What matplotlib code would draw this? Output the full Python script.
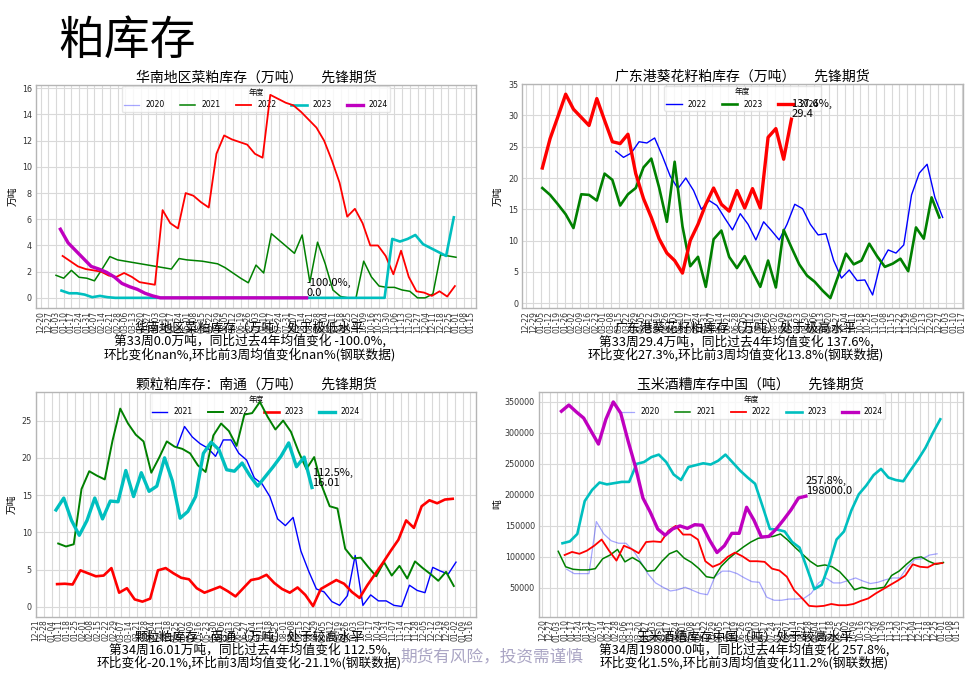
import pandas as pd
import matplotlib
matplotlib.use("Agg")
import matplotlib.pyplot as plt

plt.rcParams['font.family'] = ['Noto Sans CJK SC', 'DejaVu Sans']
plt.rcParams['axes.unicode_minus'] = False

W, H = 979, 679

# ---- 华南地区菜粕库存（万吨） ----
tl_ticks_start = '2023-12-20'
tl_2021 = [1.72, 1.5, 2.1, 1.57, 1.5, 1.3, 2.2, 3.15, 2.9, 2.8,
           2.7, 2.6, 2.5, 2.4, 2.3, 2.2, 3.0, 2.9, 2.85, 2.8,
           2.7, 2.6, 2.3, 1.9, 1.5, 1.15, 2.5, 1.9, 4.9, 4.4,
           3.9, 3.4, 4.8, 1.2, 4.25, 2.6, 0.6, 0.1, 0, 0,
           2.8, 1.6, 0.9, 0.8, 0.8, 0.6, 0.5, 0, 0, 0.3,
           3.3, 3.2, 3.1]
tl_2022 = [3.2, 2.8, 2.4, 2.2, 2.1, 2.0, 1.7, 1.6, 1.9, 1.6,
           1.2, 1.1, 1.0, 6.7, 5.7, 5.3, 8.0, 7.8, 7.3, 6.9,
           11.0, 12.4, 12.1, 11.9, 11.7, 11.0, 10.7, 15.5, 15.2, 14.9,
           14.7, 14.2, 13.6, 13.0, 12.0, 10.5, 8.8, 6.2, 6.8, 5.7,
           4.0, 4.0, 3.2, 1.8, 3.6, 1.6, 0.5, 0.4, 0.15, 0.5,
           0.1, 0.9]
tl_2023 = [0.55, 0.35, 0.35, 0.25, 0.05, 0.15, 0.05, 0, 0, 0,
           0, 0, 0, 0, 0, 0, 0, 0, 0, 0,
           0, 0, 0, 0, 0, 0, 0, 0, 0, 0,
           0, 0, 0, 0, 0, 0, 0, 0, 0, 0,
           0, 0, 0, 4.5, 4.3, 4.5, 4.8, 4.1, 3.8, 3.5,
           3.2, 6.15]
tl_2024 = [5.24, 4.2, 3.6, 3.0, 2.4, 2.2, 1.95, 1.6, 1.1, 0.85,
           0.65, 0.35, 0.15, 0, 0, 0, 0, 0, 0, 0,
           0, 0, 0, 0, 0, 0, 0, 0, 0, 0,
           0, 0, 0]
tl_starts = {'2021': '2024-01-03', '2022': '2024-01-09', '2023': '2024-01-08', '2024': '2024-01-07'}

# ---- 广东港葵花籽粕库存（万吨） ----
tr_ticks_start = '2023-12-22'
tr_2022 = [24.3, 23.3, 24.0, 25.8, 25.6, 26.4, 23.5, 20.3, 18.3, 20.0,
           18.0, 15.0, 16.4, 15.6, 13.6, 11.7, 14.3, 12.6, 10.1, 13.0,
           11.6, 10.1, 12.6, 15.8, 15.1, 12.6, 10.9, 11.1, 6.8, 4.0,
           5.3, 3.6, 3.7, 1.3, 6.3, 8.5, 8.0, 9.3, 17.3, 20.8,
           22.2, 16.9, 13.7]
tr_2023 = [18.4, 17.3, 15.8, 14.2, 12.0, 17.4, 17.3, 16.4, 20.7, 19.7,
           15.6, 17.4, 18.4, 21.7, 23.1, 18.5, 13.0, 22.6, 12.3, 5.9,
           7.4, 2.6, 10.2, 11.6, 7.4, 5.6, 7.5, 5.0, 2.6, 6.8,
           2.5, 11.7, 8.9, 6.2, 4.4, 3.4, 2.0, 0.8, 4.3, 7.9,
           6.2, 6.8, 9.5, 7.5, 5.8, 6.3, 7.1, 5.1, 12.1, 10.3,
           16.9, 13.7]
tr_2024 = [21.6, 26.3, 29.8, 33.4, 31.0, 29.7, 28.4, 32.7, 29.2, 25.8,
           25.5, 27.0, 20.7, 16.7, 13.7, 10.3, 8.0, 6.8, 4.8, 10.0,
           12.6, 15.8, 18.4, 15.8, 14.7, 18.0, 15.2, 18.3, 15.2, 26.5,
           27.9, 23.0, 29.4]
tr_starts = {'2022': '2024-03-12', '2023': '2024-01-06', '2024': '2024-01-06'}

# ---- 颗粒粕库存：南通（万吨） ----
bl_ticks_start = '2023-12-21'
bl_2021 = [21.4, 24.2, 22.8, 21.9, 21.3, 20.2, 22.4, 22.4, 20.6, 19.7,
           17.3, 16.5, 14.8, 11.8, 10.9, 12.0, 7.5, 4.8, 2.4, 2.0,
           0.7, 0.2, 1.5, 6.9, 0.2, 1.6, 0.8, 0.8, 0.2, 0.05,
           2.9, 2.2, 1.9, 5.3, 4.8, 4.4, 6.0]
bl_2022 = [8.5, 8.1, 8.4, 15.8, 18.2, 17.6, 17.1, 22.3, 26.6, 24.6,
           23.1, 22.2, 18.0, 20.0, 22.2, 21.5, 21.2, 20.6, 19.0, 18.1,
           23.0, 24.6, 23.6, 21.6, 25.8, 26.0, 27.5, 25.5, 23.8, 25.0,
           23.5, 20.8, 18.5, 20.1, 16.2, 13.5, 13.2, 7.8, 6.5, 6.6,
           5.3, 4.1, 6.0, 4.2, 5.5, 3.8, 6.1, 5.2, 4.4, 3.5,
           4.7, 2.8]
bl_2023 = [3.05, 3.1, 3.0, 4.9, 4.5, 4.1, 4.2, 5.2, 1.9, 2.5,
           1.0, 0.7, 1.1, 4.9, 5.2, 4.5, 3.9, 3.7, 2.5, 1.9,
           2.3, 2.7, 2.1, 1.4, 2.5, 3.6, 3.8, 4.3, 3.2, 2.4,
           1.9, 2.6, 1.6, 0.1, 2.4, 3.0, 3.6, 3.1, 2.0, 1.2,
           2.9, 4.4, 5.9, 7.5, 9.0, 11.6, 10.6, 13.5, 14.3, 13.9,
           14.4, 14.5]
bl_2024 = [13.0, 14.6, 11.6, 9.6, 11.6, 14.6, 11.8, 14.2, 14.1, 18.3,
           14.8, 18.0, 15.5, 16.2, 20.0, 16.9, 11.9, 12.8, 14.8, 20.6,
           22.1, 21.1, 18.4, 18.2, 19.3, 17.6, 16.2, 17.5, 18.8, 20.2,
           22.0, 18.8, 20.1, 16.01]
bl_starts = {'2021': '2024-04-26', '2022': '2024-01-10', '2023': '2024-01-09', '2024': '2024-01-08'}

# ---- 玉米酒糟库存中国（吨） ----
br_ticks_start = '2023-12-20'
br_2020 = [80000, 73000, 73000, 73000, 157000, 137000, 126000, 122000, 122000, 110000,
           92000, 72000, 58000, 51000, 45000, 47000, 51000, 46000, 41000, 39000,
           68000, 77000, 77000, 73000, 66000, 60000, 59000, 35000, 30000, 30000,
           32000, 32000, 33000, 41000, 58000, 66000, 58000, 58000, 62000, 66000,
           61000, 57000, 59000, 63000, 66000, 66000, 84000, 96000, 97000, 103000,
           105000]
br_2021 = [109000, 84000, 80000, 79000, 79000, 81000, 97000, 103000, 112000, 92000,
           99000, 92000, 77000, 78000, 93000, 105000, 110000, 98000, 91000, 81000,
           68000, 66000, 85000, 97000, 107000, 116000, 124000, 130000, 132000, 133000,
           137000, 127000, 115000, 104000, 93000, 85000, 87000, 84000, 76000, 63000,
           47000, 51000, 48000, 49000, 51000, 70000, 77000, 88000, 98000, 100000,
           93000, 88000, 91000]
br_2022 = [103000, 108000, 105000, 110000, 118000, 128000, 110000, 94000, 118000, 113000,
           106000, 124000, 125000, 124000, 142000, 150000, 136000, 136000, 128000, 93000,
           84000, 89000, 100000, 107000, 101000, 93000, 93000, 92000, 81000, 78000,
           68000, 46000, 34000, 21000, 20000, 21000, 24000, 22000, 22000, 24000,
           29000, 33000, 41000, 48000, 55000, 62000, 70000, 88000, 84000, 83000,
           89000, 90000]
br_2023 = [122000, 125000, 137000, 190000, 208000, 220000, 217000, 219000, 221000, 221000,
           250000, 253000, 261000, 265000, 253000, 233000, 224000, 245000, 248000, 251000,
           249000, 255000, 265000, 252000, 239000, 228000, 218000, 182000, 145000, 144000,
           141000, 124000, 115000, 82000, 48000, 55000, 88000, 128000, 141000, 175000,
           201000, 215000, 232000, 242000, 228000, 224000, 222000, 240000, 257000, 276000,
           300000, 322000]
br_2024 = [335000, 345000, 334000, 324000, 303000, 282000, 322000, 350000, 332000, 287000,
           245000, 195000, 172000, 145000, 135000, 145000, 150000, 146000, 152000, 151000,
           127000, 107000, 118000, 138000, 138000, 180000, 159000, 132000, 133000, 145000,
           160000, 176000, 195000, 198000]
br_starts = {'2020': '2024-01-12', '2021': '2024-01-04', '2022': '2024-01-10', '2023': '2024-01-08', '2024': '2024-01-07'}

# line looks: (color, linewidth, alpha)
style = {
    'b': ('#0000ff', 1.0, 1.0),
    'b_light': ('#0000ff', 0.9, 0.35),
    'g': ('#008000', 1.1, 1.0),
    'r': ('#ff0000', 1.3, 1.0),
    'c': ('#00bfbf', 1.9, 1.0),
    'm': ('#bf00bf', 2.4, 1.0),
}

panels = [
    dict(box=(36, 84.7, 476, 308),
         title='华南地区菜粕库存（万吨）      先锋期货', ylabel='万吨', ylab_x=-0.043,
         ticks=tl_ticks_start,
         series=[('2020', [], None, 'b_light'),
                 ('2021', tl_2021, tl_starts['2021'], 'g'),
                 ('2022', tl_2022, tl_starts['2022'], 'r'),
                 ('2023', tl_2023, tl_starts['2023'], 'c'),
                 ('2024', tl_2024, tl_starts['2024'], 'm')],
         note='-100.0',
         text=['华南地区菜粕库存（万吨）处于极低水平',
               '第33周0.0万吨，同比过去4年均值变化 -100.0%,',
               '环比变化nan%,环比前3周均值变化nan%(钢联数据)']),
    dict(box=(522.3, 84, 962.7, 308.3),
         title='广东港葵花籽粕库存（万吨）      先锋期货', ylabel='万吨', ylab_x=-0.045,
         ticks=tr_ticks_start,
         series=[('2022', tr_2022, tr_starts['2022'], 'b'),
                 ('2023', tr_2023, tr_starts['2023'], ('#008000', 1.9, 1.0)),
                 ('2024', tr_2024, tr_starts['2024'], ('#ff0000', 2.4, 1.0))],
         note='137.6',
         text=['广东港葵花籽粕库存（万吨）处于极高水平',
               '第33周29.4万吨，同比过去4年均值变化 137.6%,',
               '环比变化27.3%,环比前3周均值变化13.8%(钢联数据)']),
    dict(box=(36, 391.7, 476, 616.7),
         title='颗粒粕库存：南通（万吨）      先锋期货', ylabel='万吨', ylab_x=-0.044,
         ticks=bl_ticks_start,
         series=[('2021', bl_2021, bl_starts['2021'], 'b'),
                 ('2022', bl_2022, bl_starts['2022'], ('#008000', 1.4, 1.0)),
                 ('2023', bl_2023, bl_starts['2023'], ('#ff0000', 1.9, 1.0)),
                 ('2024', bl_2024, bl_starts['2024'], ('#00bfbf', 2.4, 1.0))],
         note='112.5',
         text=['颗粒粕库存：南通（万吨）处于较高水平',
               '第34周16.01万吨，同比过去4年均值变化 112.5%,',
               '环比变化-20.1%,环比前3周均值变化-21.1%(钢联数据)']),
    dict(box=(539, 391.7, 962.7, 616.7),
         title='玉米酒糟库存中国（吨）      先锋期货', ylabel='吨', ylab_x=-0.086,
         ticks=br_ticks_start,
         series=[('2020', br_2020, br_starts['2020'], 'b_light'),
                 ('2021', br_2021, br_starts['2021'], 'g'),
                 ('2022', br_2022, br_starts['2022'], 'r'),
                 ('2023', br_2023, br_starts['2023'], 'c'),
                 ('2024', br_2024, br_starts['2024'], 'm')],
         note='257.8',
         text=['玉米酒糟库存中国（吨）处于较高水平',
               '第34周198000.0吨，同比过去4年均值变化 257.8%,',
               '环比变化1.5%,环比前3周均值变化11.2%(钢联数据)']),
]

fig = plt.figure(figsize=(W / 100, H / 100), dpi=100)

for p in panels:
    x0, y0, x1, y1 = p['box']
    ax = fig.add_axes([x0 / W, 1 - y1 / H, (x1 - x0) / W, (y1 - y0) / H])
    for year, vals, start, st in p['series']:
        color, lw, alpha = style[st] if isinstance(st, str) else st
        if len(vals):
            dates = pd.date_range(start, periods=len(vals), freq='7D')
        else:
            dates = pd.to_datetime([])
        ax.plot(dates, vals, color=color, lw=lw, alpha=alpha, label=year)
    # last point of the newest year gets the note
    _, last_vals, last_start, _ = p['series'][-1]
    last_date = pd.date_range(last_start, periods=len(last_vals), freq='7D')[-1]
    ax.text(last_date, last_vals[-1], f"{p['note']}%,\n{float(last_vals[-1])}",
            fontsize=8, ha='left', va='bottom', linespacing=1.0, zorder=6)

    xl = ax.get_xlim()
    ticks = pd.date_range(p['ticks'], periods=57, freq='7D')
    ax.set_xticks(ticks)
    ax.set_xticklabels(ticks.strftime('%m-%d'), rotation=90, family='DejaVu Sans')
    ax.set_xlim(xl)
    for lab in ax.get_yticklabels():
        lab.set_family('DejaVu Sans')

    ax.grid(True, color='#d9d9d9', lw=0.8)
    ax.set_axisbelow(True)
    for s in ax.spines.values():
        s.set_color('#b5b5b5')
        s.set_linewidth(1.0)
    ax.tick_params(axis='x', length=0, pad=2, labelsize=5.5, labelcolor='#333333')
    ax.tick_params(axis='y', length=0, pad=3, labelsize=5.8, labelcolor='#333333')

    ax.set_title(p['title'], fontsize=10, pad=2)
    ax.set_ylabel(p['ylabel'], fontsize=7)
    ax.yaxis.set_label_coords(p['ylab_x'], 0.5)

    leg = ax.legend(title='年度', ncol=len(p['series']), loc='upper center',
                    prop={'family': 'DejaVu Sans', 'size': 5.5},
                    title_fontproperties={'family': 'Noto Sans CJK SC', 'size': 5.5},
                    borderaxespad=0.2, borderpad=0.3, handlelength=2.0,
                    columnspacing=2.0, edgecolor='#e0e0e0', framealpha=0.8)
    leg.set_zorder(1)

    cx = (x0 + x1) / 2 - 6.5
    for j, line in enumerate(p['text']):
        fig.text(cx / W, 1 - (y1 + 20.3 + 13 * j) / H, line,
                 fontsize=9.2, ha='center', va='center')

fig.text(58 / W, 1 - 40 / H, '粕库存', fontsize=33, fontweight='light',
         ha='left', va='center')
fig.text(492 / W, 1 - 657 / H, '期货有风险，投资需谨慎', fontsize=12,
         color='#aaa5c4', ha='center', va='center')

fig.savefig('out.png', dpi=100)
